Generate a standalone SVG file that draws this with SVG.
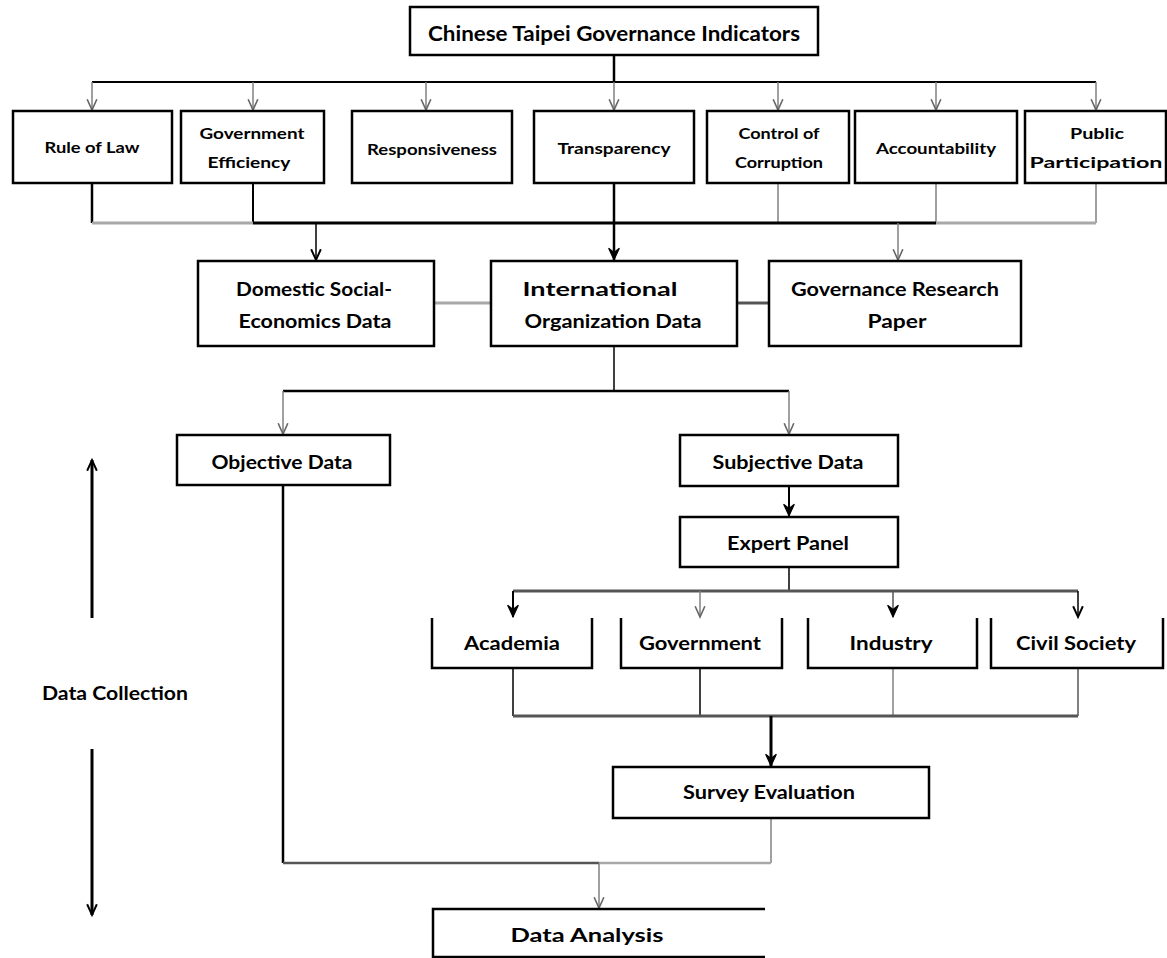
<svg xmlns="http://www.w3.org/2000/svg" width="1167" height="958" viewBox="0 0 1167 958">
<style>
  .box{fill:#fff;stroke:#000;stroke-width:2.5}
  .obox{fill:none;stroke:#000;stroke-width:2.5}
  text{font-family:Lato,"Open Sans","Liberation Sans",sans-serif;font-weight:bold;fill:#000;text-anchor:middle;dominant-baseline:central}
  .t1{font-size:21px}
  .t2{font-size:15px}
  .t3{font-size:19px}
  .k{fill:none;stroke:#000}
  .g{fill:none;stroke:#808080}
  .lg{fill:none;stroke:#a8a8a8}
  .dg{fill:none;stroke:#555}
</style>
<defs>
  <marker id="ov" markerUnits="userSpaceOnUse" markerWidth="14" markerHeight="14" viewBox="-11 -6 13 12" refX="0" refY="0" orient="auto" overflow="visible">
    <path d="M-10,-4.5 L0,0 L-10,4.5" fill="none" stroke="#666" stroke-width="1.5"/>
  </marker>
  <marker id="ok" markerUnits="userSpaceOnUse" markerWidth="14" markerHeight="14" viewBox="-11 -6 13 12" refX="0" refY="0" orient="auto" overflow="visible">
    <path d="M-10,-4.5 L0,0 L-10,4.5" fill="none" stroke="#000" stroke-width="1.8"/>
  </marker>
  <marker id="sv" markerUnits="userSpaceOnUse" markerWidth="14" markerHeight="14" viewBox="-11 -6 13 12" refX="0" refY="0" orient="auto" overflow="visible">
    <path d="M-11,-5 L0,0 L-11,5 L-7,0 Z" fill="#000" stroke="#000" stroke-width="1"/>
  </marker>
</defs>

<g id="connectors">
  <path class="k" stroke-width="2.5" d="M614,55 V82"/>
  <path class="k" stroke-width="2" d="M92,82 H1096"/>
  <path class="g" stroke-width="1.5" marker-end="url(#ov)" d="M92,82 V110"/>
  <path class="g" stroke-width="1.5" marker-end="url(#ov)" d="M253,82 V110"/>
  <path class="g" stroke-width="1.5" marker-end="url(#ov)" d="M426,82 V110"/>
  <path class="g" stroke-width="1.5" marker-end="url(#ov)" d="M614,82 V110"/>
  <path class="g" stroke-width="1.5" marker-end="url(#ov)" d="M778,82 V110"/>
  <path class="g" stroke-width="1.5" marker-end="url(#ov)" d="M936,82 V110"/>
  <path class="g" stroke-width="1.5" marker-end="url(#ov)" d="M1096,82 V110"/>

  <path class="k" stroke-width="2.5" d="M92,184 V223"/>
  <path class="k" stroke-width="2" d="M253,184 V223"/>
  <path class="k" stroke-width="2.5" d="M614,184 V223"/>
  <path class="g" stroke-width="1.5" d="M778,184 V223"/>
  <path class="g" stroke-width="1.5" d="M936,184 V223"/>
  <path class="g" stroke-width="1.5" d="M1096,184 V223"/>
  <path class="lg" stroke-width="3" d="M92,223 H253"/>
  <path class="k" stroke-width="3" d="M253,223 H936"/>
  <path class="lg" stroke-width="3" d="M936,223 H1096"/>

  <path class="k" stroke-width="1.5" marker-end="url(#ok)" d="M316,223 V260"/>
  <path class="k" stroke-width="2.5" marker-end="url(#sv)" d="M614,223 V260"/>
  <path class="g" stroke-width="1.5" marker-end="url(#ov)" d="M898,223 V260"/>

  <path class="lg" stroke-width="3" d="M434,303 H491"/>
  <path class="dg" stroke-width="3" d="M737,303 H769"/>

  <path class="k" stroke-width="1.5" d="M614,346 V391"/>
  <path class="k" stroke-width="2.5" d="M283,391 H789"/>
  <path class="g" stroke-width="1.5" marker-end="url(#ov)" d="M283,391 V434"/>
  <path class="g" stroke-width="1.5" marker-end="url(#ov)" d="M789,391 V434"/>

  <path class="k" stroke-width="2.5" d="M283,486 V863"/>
  <path class="k" stroke-width="2" marker-end="url(#sv)" d="M789,487 V516"/>
  <path class="k" stroke-width="1.5" d="M789,568 V591"/>
  <path class="dg" stroke-width="3" d="M513,591 H1078"/>
  <path class="k" stroke-width="2" marker-end="url(#sv)" d="M513,591 V617"/>
  <path class="g" stroke-width="1.5" marker-end="url(#ov)" d="M700,591 V617"/>
  <path class="dg" stroke-width="1.5" marker-end="url(#sv)" d="M893,591 V617"/>
  <path class="k" stroke-width="1.5" marker-end="url(#ok)" d="M1078,591 V617"/>

  <path class="k" stroke-width="1.5" d="M513,669 V716"/>
  <path class="k" stroke-width="1.5" d="M700,669 V716"/>
  <path class="g" stroke-width="1.5" d="M893,669 V716"/>
  <path class="g" stroke-width="2" d="M1078,669 V716"/>
  <path class="dg" stroke-width="3" d="M513,716 H1078"/>
  <path class="k" stroke-width="3" marker-end="url(#sv)" d="M771,716 V766"/>

  <path class="g" stroke-width="1.5" d="M771,819 V863"/>
  <path class="dg" stroke-width="2.5" d="M283,863 H599"/>
  <path class="lg" stroke-width="2.5" d="M599,863 H771"/>
  <path class="g" stroke-width="1.5" marker-end="url(#ov)" d="M599,863 V908"/>

  <path class="k" stroke-width="3" marker-end="url(#ok)" d="M92,618 V460"/>
  <path class="k" stroke-width="3" marker-end="url(#ok)" d="M92,749 V915"/>
</g>

<g id="n-title">
  <rect class="box" x="410" y="7" width="408" height="48"/>
  <text class="t1" x="614" y="32" textLength="372" lengthAdjust="spacingAndGlyphs">Chinese Taipei Governance Indicators</text>
</g>

<g id="n-rule">
  <rect class="box" x="13" y="111" width="159" height="72"/>
  <text class="t2" x="92" y="147" textLength="95" lengthAdjust="spacingAndGlyphs">Rule of Law</text>
</g>
<g id="n-goveff">
  <rect class="box" x="181" y="111" width="143" height="72"/>
  <text class="t2" x="252" y="133" textLength="105" lengthAdjust="spacingAndGlyphs">Government</text>
  <text class="t2" x="249" y="162" textLength="83" lengthAdjust="spacingAndGlyphs">Efficiency</text>
</g>
<g id="n-resp">
  <rect class="box" x="352" y="111" width="160" height="72"/>
  <text class="t2" x="432" y="149" textLength="130" lengthAdjust="spacingAndGlyphs">Responsiveness</text>
</g>
<g id="n-transp">
  <rect class="box" x="534" y="111" width="160" height="72"/>
  <text class="t2" x="614" y="148" textLength="113" lengthAdjust="spacingAndGlyphs">Transparency</text>
</g>
<g id="n-control">
  <rect class="box" x="707" y="111" width="142" height="72"/>
  <text class="t2" x="779" y="133" textLength="81" lengthAdjust="spacingAndGlyphs">Control of</text>
  <text class="t2" x="779" y="162" textLength="88" lengthAdjust="spacingAndGlyphs">Corruption</text>
</g>
<g id="n-account">
  <rect class="box" x="855" y="111" width="162" height="72"/>
  <text class="t2" x="936" y="148" textLength="120" lengthAdjust="spacingAndGlyphs">Accountability</text>
</g>
<g id="n-public">
  <rect class="box" x="1025" y="111" width="141" height="72"/>
  <text class="t2" x="1097" y="133" textLength="54" lengthAdjust="spacingAndGlyphs">Public</text>
  <text class="t2" x="1096" y="162" textLength="133" lengthAdjust="spacingAndGlyphs">Participation</text>
</g>

<g id="n-domestic">
  <rect class="box" x="198" y="261" width="236" height="85"/>
  <text class="t3" x="314" y="288" textLength="156" lengthAdjust="spacingAndGlyphs">Domestic Social-</text>
  <text class="t3" x="315" y="320" textLength="153" lengthAdjust="spacingAndGlyphs">Economics Data</text>
</g>
<g id="n-intl">
  <rect class="box" x="491" y="261" width="246" height="85"/>
  <text class="t3" x="600" y="288" textLength="155" lengthAdjust="spacingAndGlyphs">International</text>
  <text class="t3" x="613" y="320" textLength="177" lengthAdjust="spacingAndGlyphs">Organization Data</text>
</g>
<g id="n-research">
  <rect class="box" x="769" y="261" width="252" height="85"/>
  <text class="t3" x="895" y="288" textLength="208" lengthAdjust="spacingAndGlyphs">Governance Research</text>
  <text class="t3" x="897" y="320" textLength="59" lengthAdjust="spacingAndGlyphs">Paper</text>
</g>

<g id="n-objective">
  <rect class="box" x="177" y="435" width="213" height="50"/>
  <text class="t3" x="282" y="461" textLength="141" lengthAdjust="spacingAndGlyphs">Objective Data</text>
</g>
<g id="n-subjective">
  <rect class="box" x="680" y="435" width="218" height="51"/>
  <text class="t3" x="788" y="461" textLength="151" lengthAdjust="spacingAndGlyphs">Subjective Data</text>
</g>
<g id="n-expert">
  <rect class="box" x="680" y="517" width="218" height="50"/>
  <text class="t3" x="788" y="542" textLength="122" lengthAdjust="spacingAndGlyphs">Expert Panel</text>
</g>

<g id="n-academia">
  <path class="obox" d="M432,618 V668 H592 V618"/>
  <text class="t3" x="512" y="642" textLength="96" lengthAdjust="spacingAndGlyphs">Academia</text>
</g>
<g id="n-government">
  <path class="obox" d="M621,618 V668 H782 V618"/>
  <text class="t3" x="700" y="642" textLength="122" lengthAdjust="spacingAndGlyphs">Government</text>
</g>
<g id="n-industry">
  <path class="obox" d="M808,618 V668 H977 V618"/>
  <text class="t3" x="891" y="642" textLength="83" lengthAdjust="spacingAndGlyphs">Industry</text>
</g>
<g id="n-civil">
  <path class="obox" d="M991,618 V668 H1163 V618"/>
  <text class="t3" x="1076" y="642" textLength="120" lengthAdjust="spacingAndGlyphs">Civil Society</text>
</g>

<g id="n-survey">
  <rect class="box" x="613" y="767" width="316" height="51"/>
  <text class="t3" x="769" y="791" textLength="172" lengthAdjust="spacingAndGlyphs">Survey Evaluation</text>
</g>

<g id="n-analysis">
  <path class="obox" d="M765,909 H433 V957 H765"/>
  <text class="t3" x="587" y="934" textLength="153" lengthAdjust="spacingAndGlyphs">Data Analysis</text>
</g>

<g id="n-collection">
  <text class="t3" x="115" y="692" textLength="146" lengthAdjust="spacingAndGlyphs">Data Collection</text>
</g>
</svg>
